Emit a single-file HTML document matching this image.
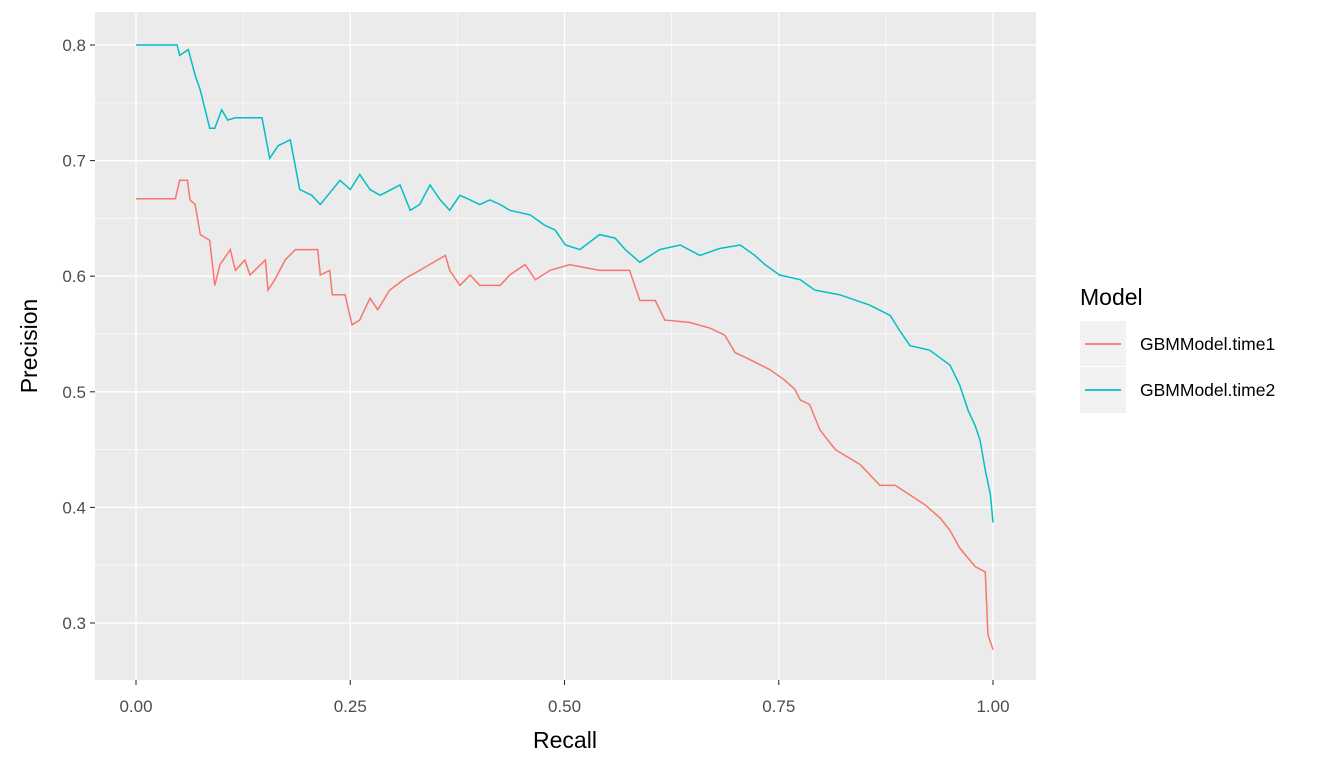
<!DOCTYPE html>
<html><head><meta charset="utf-8"><style>
body{margin:0;background:#fff;}
svg{display:block;font-family:"Liberation Sans",Arial,sans-serif;}
</style></head><body>
<svg id="chart" width="1344" height="768">
<rect x="95" y="12" width="941" height="668" fill="#ebebeb"/>
<g id="grid"></g><g id="series"></g><g id="axes"></g>
<text x="565" y="748" font-size="23" text-anchor="middle" fill="#000">Recall</text>
<text transform="translate(37,346) rotate(-90)" font-size="23" text-anchor="middle" fill="#000">Precision</text>
<g>
<text x="1080" y="305" font-size="23" fill="#000">Model</text>
<rect x="1080" y="321" width="46" height="45" fill="#f2f2f2"/>
<line x1="1085" y1="344" x2="1121" y2="344" stroke="#F8766D" stroke-width="1.8"/>
<text x="1140" y="350" font-size="17.5" fill="#000">GBMModel.time1</text>
<rect x="1080" y="367" width="46" height="46" fill="#f2f2f2"/>
<line x1="1085" y1="390" x2="1121" y2="390" stroke="#00BFC4" stroke-width="1.8"/>
<text x="1140" y="396" font-size="17.5" fill="#000">GBMModel.time2</text>
</g>
</svg>
<script>
const xTicks=[0,0.25,0.5,0.75,1];
const xTickLabels=["0.00","0.25","0.50","0.75","1.00"];
const yTicks=[0.3,0.4,0.5,0.6,0.7,0.8];
const yTickLabels=["0.3","0.4","0.5","0.6","0.7","0.8"];
const recall2=[0,.048,.051,.061,.069,.075,.086,.092,.100,.107,.116,.127,.147,.156,.166,.180,.191,.205,.215,.238,.250,.261,.273,.285,.308,.320,.331,.343,.355,.366,.378,.390,.401,.413,.425,.436,.460,.477,.489,.501,.518,.541,.559,.571,.588,.611,.635,.658,.681,.705,.722,.734,.751,.775,.792,.821,.856,.880,.891,.903,.926,.950,.961,.971,.979,.985,.991,.997,1];
const precision2=[.800,.800,.791,.796,.774,.761,.728,.728,.744,.735,.737,.737,.737,.702,.713,.718,.675,.670,.662,.683,.675,.688,.675,.670,.679,.657,.662,.679,.666,.657,.670,.666,.662,.666,.662,.657,.653,.644,.640,.627,.623,.636,.633,.623,.612,.623,.627,.618,.624,.627,.618,.610,.601,.597,.588,.584,.575,.566,.553,.540,.536,.523,.506,.484,.471,.458,.432,.411,.387];
const recall1=[0,.046,.051,.060,.063,.069,.075,.086,.092,.098,.110,.116,.127,.133,.151,.154,.162,.174,.186,.212,.215,.226,.229,.244,.252,.261,.273,.282,.296,.314,.331,.361,.366,.378,.390,.401,.425,.436,.454,.466,.483,.506,.541,.559,.576,.588,.606,.617,.646,.670,.687,.699,.716,.740,.757,.769,.775,.786,.798,.816,.845,.868,.886,.909,.921,.938,.950,.961,.979,.991,.994,1];
const precision1=[.667,.667,.683,.683,.666,.662,.636,.631,.592,.610,.623,.605,.614,.601,.614,.588,.597,.614,.623,.623,.601,.605,.584,.584,.558,.562,.581,.571,.588,.598,.605,.618,.605,.592,.601,.592,.592,.601,.610,.597,.605,.610,.605,.605,.605,.579,.579,.562,.560,.555,.549,.534,.528,.519,.510,.502,.493,.489,.467,.450,.437,.419,.419,.408,.402,.391,.380,.365,.349,.344,.290,.277];
const X=v=>136+v*857, Y=v=>45+(0.8-v)*1156;
const NS="http://www.w3.org/2000/svg";
function mk(t,a,p){const e=document.createElementNS(NS,t);for(const k in a)e.setAttribute(k,a[k]);p.appendChild(e);return e;}
const grid=document.getElementById('grid'),axes=document.getElementById('axes'),ser=document.getElementById('series');
for(let i=0;i<xTicks.length-1;i++){const m=(xTicks[i]+xTicks[i+1])/2;const l=mk('line',{x1:X(m),x2:X(m),y1:12,y2:680,stroke:'#fff','stroke-width':0.6},grid);

}
for(let i=0;i<yTicks.length;i++){const m=yTicks[i]+0.05;if(m<0.83){const l=mk('line',{x1:95,x2:1036,y1:Y(m),y2:Y(m),stroke:'#fff','stroke-width':0.6},grid);

}}
{const l=mk('line',{x1:95,x2:1036,y1:Y(0.25),y2:Y(0.25),stroke:'#fff','stroke-width':0.6},grid);

}
xTicks.forEach((v,i)=>{const l=mk('line',{x1:X(v),x2:X(v),y1:12,y2:680,stroke:'#fff','stroke-width':1.3},grid);


mk('line',{x1:X(v),x2:X(v),y1:680,y2:685,stroke:'#333','stroke-width':1.1},axes);
const t=mk('text',{x:X(v),y:712,'font-size':17,'text-anchor':'middle',fill:'#4d4d4d'},axes);t.textContent=xTickLabels[i];

});
yTicks.forEach((v,i)=>{const l=mk('line',{x1:95,x2:1036,y1:Y(v),y2:Y(v),stroke:'#fff','stroke-width':1.3},grid);


mk('line',{x1:90,x2:95,y1:Y(v),y2:Y(v),stroke:'#333','stroke-width':1.1},axes);
const t=mk('text',{x:86,y:Y(v)+6,'font-size':17,'text-anchor':'end',fill:'#4d4d4d'},axes);t.textContent=yTickLabels[i];

});
function line(r,p,c,n){const pts=r.map((v,i)=>X(v).toFixed(1)+','+Y(p[i]).toFixed(1)).join(' ');
const e=mk('polyline',{points:pts,fill:'none',stroke:c,'stroke-width':1.5},ser);

}
line(recall1,precision1,'#F8766D','series-gbmmodel-time1');
line(recall2,precision2,'#00BFC4','series-gbmmodel-time2');
</script>
</body></html>
